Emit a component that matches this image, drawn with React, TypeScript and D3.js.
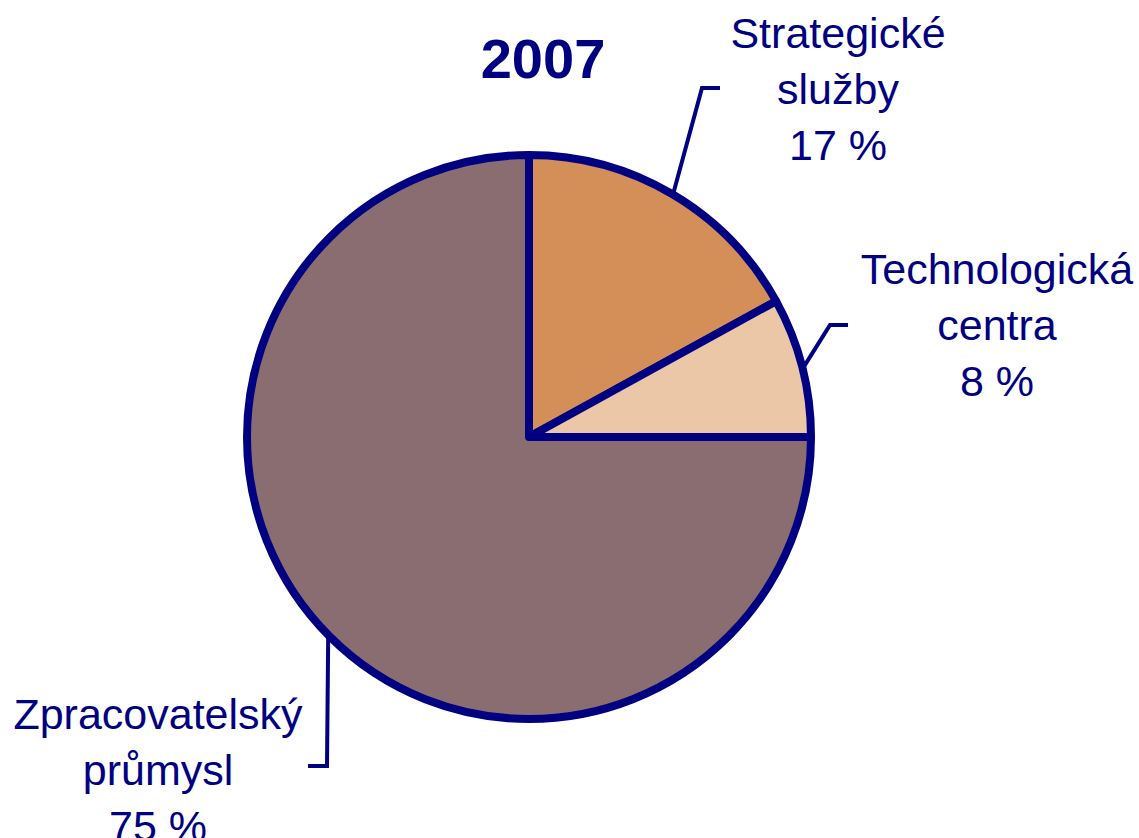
import React from "react";
import * as d3 from "d3";

const title = "2007";
const categories = ["Strategické služby", "Technologická centra", "Zpracovatelský průmysl"];
const labelLines = [["Strategické", "služby"], ["Technologická", "centra"], ["Zpracovatelský", "průmysl"]];
const values = [17, 8, 75];
const colors = ["#D48E58", "#EBC7A8", "#8A6D70"];

const W = 1139, H = 838;
const cx = 529, cy = 437, R = 282;
const navy = "#000080";

// leader elbow and end, label center and first baseline
const layout = [
  { elbow: [702, 88], end: [720, 88], tx: 838, ty: 48 },
  { elbow: [830, 325], end: [848, 325], tx: 997, ty: 284 },
  { elbow: [327, 766], end: [308, 766], tx: 158, ty: 729 },
];

export default function App() {
  const pie = d3.pie<number>().sort(null).value((d) => d);
  const arcs = pie(values);
  const arc = d3.arc<d3.PieArcDatum<number>>().innerRadius(0).outerRadius(R);
  const fs = 43;
  const lh = 56;
  return (
    <svg width={W} height={H} style={{ position: "absolute", left: 0, top: 0 }} fontFamily="'Liberation Sans', Arial, sans-serif">
      <rect width={W} height={H} fill="#fff" />
      <text x={543} y={78} textAnchor="middle" fontSize={56} fontWeight="bold" fill={navy}>{title}</text>
      <g transform={`translate(${cx},${cy})`}>
        {arcs.map((a, i) => (
          <path key={categories[i]} d={arc(a) || ""} fill={colors[i]} stroke={navy} strokeWidth={8} strokeLinejoin="round" />
        ))}
      </g>
      {arcs.map((a, i) => {
        const mid = (a.startAngle + a.endAngle) / 2;
        const sx = cx + (R + 2) * Math.sin(mid);
        const sy = cy - (R + 2) * Math.cos(mid);
        const L = layout[i];
        return (
          <g key={"l" + i}>
            <polyline points={`${sx},${sy} ${L.elbow[0]},${L.elbow[1]} ${L.end[0]},${L.end[1]}`} fill="none" stroke={navy} strokeWidth={4} />
            <text textAnchor="middle" fontSize={fs} fill={navy}>
              {[...labelLines[i], `${values[i]} %`].map((t, j) => (
                <tspan key={j} x={L.tx} y={L.ty + j * lh}>{t}</tspan>
              ))}
            </text>
          </g>
        );
      })}
    </svg>
  );
}
